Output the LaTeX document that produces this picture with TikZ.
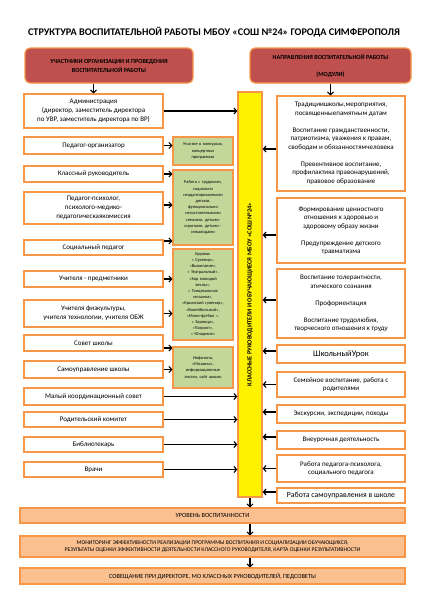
\documentclass[tikz,border=0pt]{standalone}
\usepackage{fontspec}
\setmainfont{Carlito}
\usetikzlibrary{arrows.meta}

\definecolor{edgeorange}{HTML}{F79646}
\definecolor{headred}{HTML}{C0504D}
\definecolor{formgreen}{HTML}{C4D79B}
\definecolor{resultpeach}{HTML}{FAC090}

\tikzset{
    header/.style={draw=edgeorange, line width=1.2pt, fill=headred, rounded corners=5pt,
        minimum height=35pt, inner sep=0pt, align=center,
        font=\bfseries\fontsize{6.2}{9}\selectfont},
    member/.style={draw=edgeorange, line width=1.1pt, fill=white, minimum width=139pt,
        inner sep=0pt, align=center, font=\fontsize{7}{9}\selectfont},
    form/.style={draw=edgeorange, line width=1.1pt, fill=formgreen, minimum width=60pt,
        text width=58pt, inner sep=0pt, align=center, font=\fontsize{4.4}{6.2}\selectfont},
    module/.style={draw=edgeorange, line width=1.1pt, fill=white, minimum width=128pt,
        inner sep=0pt, align=center, font=\fontsize{7}{8.5}\selectfont},
    result/.style={draw=edgeorange, line width=1.1pt, fill=resultpeach, minimum width=385pt,
        inner sep=0pt, align=center, font=\fontsize{6.3}{7.5}\selectfont},
    classbar/.style={draw=edgeorange, line width=1.2pt, fill=yellow, minimum width=24pt,
        minimum height=405pt, inner sep=0pt},
}

\begin{document}
\begin{tikzpicture}[x=1pt, y=-1pt, line width=1.1pt,
    >={Straight Barb[length=2.8pt,width=6pt]}]
    \useasboundingbox (0,0) rectangle (424,600);

    \node[font=\bfseries\fontsize{10.2}{12}\selectfont] (title) at (214,32)
        {СТРУКТУРА ВОСПИТАТЕЛЬНОЙ РАБОТЫ МБОУ «СОШ №24» ГОРОДА СИМФЕРОПОЛЯ};

    \node[header, minimum width=168pt] (hl) at (109,65.5)
        {УЧАСТНИКИ ОРГАНИЗАЦИИ И ПРОВЕДЕНИЯ\\ВОСПИТАТЕЛЬНОЙ РАБОТЫ};
    \node[header, minimum width=161pt] (hr) at (330.5,65.5)
        {НАПРАВЛЕНИЯ ВОСПИТАТЕЛЬНОЙ РАБОТЫ\\[8pt](МОДУЛИ)};

    \node[classbar] (bar) at (250,294.5) {};
    \node[rotate=90, font=\bfseries\fontsize{6.4}{7}\selectfont] (bartext) at (bar.center)
        {КЛАССНЫЕ РУКОВОДИТЕЛИ И ОБУЧАЮЩИЕСЯ МБОУ «СОШ №24»};

    \foreach \n/\y/\h/\t in {
        adm/111/34/{Администрация\\(директор,  заместитель директора\\по УВР, заместитель директора по ВР)},
        org/145.5/17/{Педагог-организатор},
        klr/174/16/{Классный руководитель},
        psy/208/32/{Педагог-психолог,\\психолого-медико-\\педагогическаякомиссия},
        soc/247.5/15/{Социальный педагог},
        pred/279/16/{Учителя  -  предметники},
        fiz/313.5/27/{Учителя физкультуры,\\учителя технологии, учителя ОБЖ},
        sov/343/16/{Совет школы},
        sam/369.5/17/{Самоуправление школы},
        mks/396.5/17/{Малый координационный совет},
        rod/419.5/15/{Родительский комитет},
        bib/444.5/15/{Библиотекарь},
        vra/469.5/15/{Врачи}}
    {
        \node[member, minimum height=\h pt] (\n) at (93.5,\y) {\t};
    }

    \foreach \n/\y/\h/\t in {
        g1/151/28/{Участие  в конкурсах,\\концертных\\программах},
        g2/207.5/75/{Работа с трудными,\\социально\\неадаптированными\\детьми,\\функционально\\несостоятельными\\семьями,  детьми-\\сиротами,  детьми -\\инвалидами},
        g3/294.5/91/{Кружки:\\« Сувенир»,\\«Выжигание»,\\« Театральный»,\\«Хор  молодой\\весны»,\\« Танцевальная\\мозаика»,\\«Крымский  сувенир»,\\«Волейбольный»,\\«Мини-футбол »,\\« Зарница»,\\«Патриот»,\\« Юнармия»},
        g4/367.5/41/{Инфозона,\\«Мозаика»,\\информационные\\листки, сайт школы}}
    {
        \node[form, minimum height=\h pt] (\n) at (203,\y) {\t};
    }

    \foreach \n/\y/\h/\t in {
        r1/143.5/95/{Традициишколы,мероприятия,\\посвященныепамятным датам\\[8.5pt]Воспитание гражданственности,\\патриотизма, уважения к правам,\\свободам и обязанностямчеловека\\[8.5pt]Превентивное  воспитание,\\профилактика правонарушений,\\правовое образование},
        r2/230.5/65/{Формирование ценностного\\отношения к здоровью и\\здоровому образу жизни\\[8.5pt]Предупреждение  детского\\травматизма},
        r3/303.5/69/{Воспитание толерантности,\\этического сознания\\[8.5pt]Профориентация\\[8.5pt]Воспитание трудолюбия,\\творческого отношения к труду},
        r4/354/18/{\fontsize{8.5}{10}\selectfont ШкольныйУрок},
        r5/384.5/25/{Семейное воспитание, работа с\\родителями},
        r6/414/18/{Экскурсии,  экспедиции,  походы},
        r7/440/18/{Внеурочная деятельность},
        r8/468.5/27/{Работа педагога-психолога,\\социального педагога},
        r9/495.5/15/{\fontsize{7.8}{9}\selectfont Работа самоуправления в школе}}
    {
        \node[module, minimum height=\h pt] (\n) at (341,\y) {\t};
    }

    \node[result, minimum height=15pt] (b1) at (212.5,515.5) {УРОВЕНЬ ВОСПИТАННОСТИ};
    \node[result, minimum height=21pt, font=\fontsize{5.7}{7.5}\selectfont] (b2) at (212.5,546.5)
        {МОНИТОРИНГ ЭФФЕКТИВНОСТИ РЕАЛИЗАЦИИ ПРОГРАММЫ ВОСПИТАНИЯ И СОЦИАЛИЗАЦИИ ОБУЧАЮЩИХСЯ,\\
         РЕЗУЛЬТАТЫ ОЦЕНКИ ЭФФЕКТИВНОСТИ ДЕЯТЕЛЬНОСТИ КЛАССНОГО РУКОВОДИТЕЛЯ, КАРТА ОЦЕНКИ РЕЗУЛЬТАТИВНОСТИ};
    \node[result, minimum height=16pt] (b3) at (212.5,576)
        {СОВЕЩАНИЕ ПРИ ДИРЕКТОРЕ, МО КЛАССНЫХ РУКОВОДИТЕЛЕЙ, ПЕДСОВЕТЫ};

    \draw[->] (adm.north |- hl.south) -- (adm.north);
    \draw[->] (hr.south) -- (hr.south |- r1.north);

    \foreach \n/\g/\d in {org/g1/0, klr/g2/0, psy/g2/3, soc/g2/6.5, pred/g3/0, fiz/g3/0, sov/g4/-5, sam/g4/0}
        \draw[->] ([yshift=\d pt]\n.east) -- ([yshift=\d pt]\n.east -| \g.west);
    \foreach \n in {adm, mks, rod, bib, vra}
        \draw[->] (\n.east) -- (\n.east -| bar.west);
    \foreach \n/\d in {r1/-5.5, r2/-4.5, r3/3.5, r4/3, r5/0, r6/2, r7/3, r8/0, r9/3.5}
        \draw[->] ([yshift=\d pt]\n.west) -- ([yshift=\d pt]\n.west -| bar.east);

    \draw[->] (bar.south) -- (bar.south |- b1.north);
    \draw[->] (b1.south -| bar.south) -- (b2.north -| bar.south);
    \draw[->] (b2.south -| bar.south) -- (b3.north -| bar.south);
\end{tikzpicture}
\end{document}
